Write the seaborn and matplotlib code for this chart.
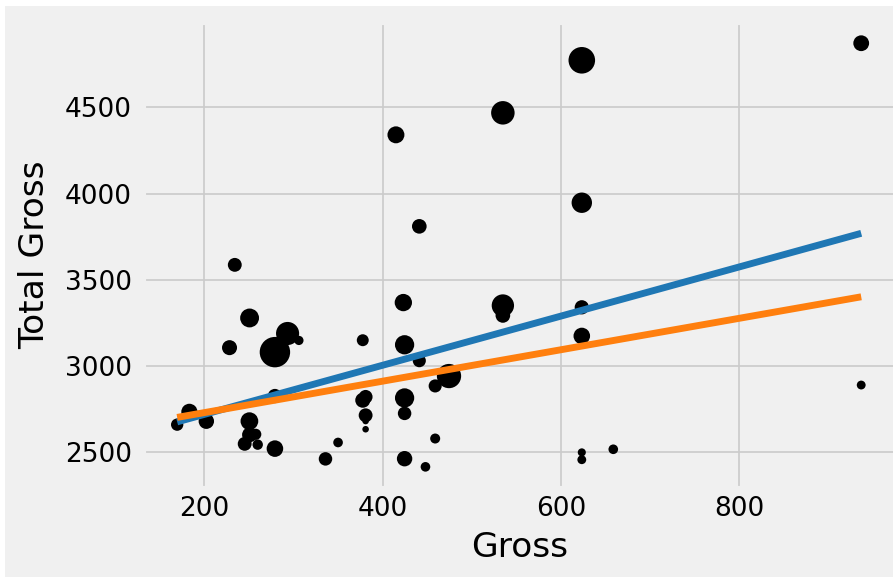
import matplotlib
matplotlib.use('Agg')
import matplotlib.pyplot as plt
import seaborn as sns
import pandas as pd
from matplotlib.patches import Rectangle

# Gross of the #1 movie vs total gross of each actor (millions)
gross = [936.7, 623.4, 534.9, 415.0, 623.4, 441.2, 234.3, 423.3, 534.9, 623.4,
         534.9, 250.9, 293.5, 623.4, 377.8, 306.2, 424.7, 228.4, 279.3, 441.2,
         474.5, 936.7, 459.0, 279.3, 381.0, 423.3, 424.7, 377.8, 183.4, 424.7,
         381.0, 381.0, 250.7, 202.4, 169.7, 381.0, 257.8, 250.9, 459.0, 350.1,
         245.4, 260.0, 279.3, 658.7, 623.4, 424.7, 336.0, 623.4, 448.1]
total_gross = [4871.7, 4772.8, 4468.3, 4340.8, 3947.3, 3810.4, 3587.2, 3368.6, 3351.5, 3341.2,
               3294.0, 3279.3, 3189.4, 3175.0, 3150.4, 3149.1, 3123.9, 3107.3, 3081.3, 3031.7,
               2942.7, 2890.6, 2885.4, 2827.0, 2822.0, 2815.8, 2815.8, 2802.6, 2735.3, 2726.3,
               2715.3, 2681.9, 2681.3, 2680.9, 2661.0, 2634.4, 2605.1, 2602.3, 2580.6, 2557.7,
               2549.8, 2545.2, 2522.1, 2518.3, 2500.3, 2463.7, 2462.6, 2457.8, 2416.5]
num_movies = [41, 69, 61, 44, 53, 38, 36, 45, 58, 37,
              38, 49, 60, 43, 31, 24, 50, 39, 79, 34,
              63, 23, 34, 37, 36, 17, 50, 39, 42, 35,
              36, 17, 46, 40, 32, 17, 29, 39, 26, 25,
              36, 27, 43, 25, 21, 40, 35, 23, 25]

# two fitted lines
line_x = [169.7, 936.7]
line_blue_y = [2677, 3770]
line_orange_y = [2703, 3402]

plt.style.use('fivethirtyeight')

df = pd.DataFrame({'Gross': gross, 'Total Gross': total_gross, 'movies': num_movies})

fig = plt.figure(figsize=(893 / 124, 577 / 124), dpi=124, facecolor='white')
fig.patches.append(Rectangle((5 / 893, 0), 1, 1 - 6 / 577, transform=fig.transFigure,
                             facecolor='#f0f0f0', edgecolor='none', zorder=-10))
ax = fig.add_axes([0.1601, 0.1542, 0.8426, 0.8076])

sns.scatterplot(data=df, x='Gross', y='Total Gross', s=df['movies'] ** 2 / 20,
                color='black', linewidth=0, ax=ax, legend=False)
sns.lineplot(x=line_x, y=line_blue_y, color='#1f77b4', linewidth=4, ax=ax)
sns.lineplot(x=line_x, y=line_orange_y, color='#ff7f0e', linewidth=4, ax=ax)

ax.set_xticks([200, 400, 600, 800])
ax.set_yticks([2500, 3000, 3500, 4000, 4500])
ax.set_xlim(131.35, 975.05)
ax.set_ylim(2293.7, 4994.5)
ax.tick_params(axis='both', labelsize=15.3)
ax.tick_params(axis='x', pad=4.6)
ax.tick_params(axis='y', pad=6.4)
ax.set_xlabel('Gross', fontsize=20, labelpad=5)
ax.set_ylabel('Total Gross', fontsize=20, labelpad=8)

fig.savefig('out.png', dpi=124, facecolor='white')
